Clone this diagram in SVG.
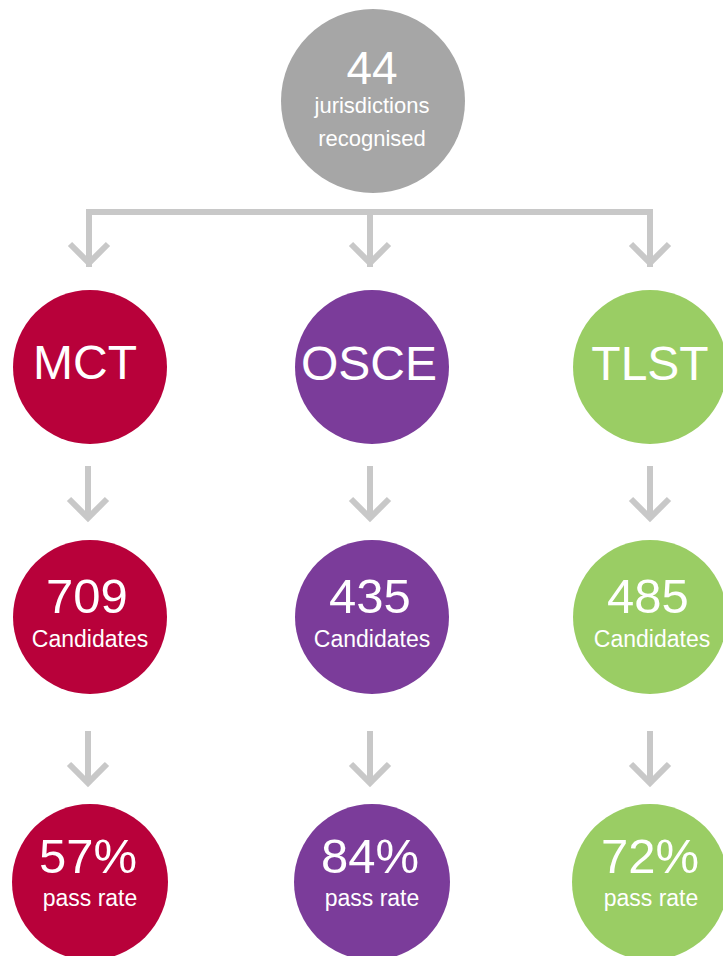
<svg xmlns="http://www.w3.org/2000/svg" xmlns:xlink="http://www.w3.org/1999/xlink" width="723" height="956" viewBox="0 0 723 956">
<style>
.conn{fill:none;stroke:#c8c8c8;stroke-width:6;stroke-linejoin:miter;stroke-linecap:butt}
text{font-family:"Liberation Sans",Arial,sans-serif;fill:#ffffff;text-anchor:middle}
.big{font-size:46px}
.num{font-size:49px}
.mid{font-size:48px}
.lab{font-size:22px}
.lab2{font-size:23px}
.gray{fill:#a6a6a6}
.red{fill:#b8013a}
.pur{fill:#7b3c9a}
.grn{fill:#9acd64}
</style>
<defs>
<path id="arr" d="M0,0 V52 M-19,33 L0,52 L19,33" class="conn"/>
</defs>
<rect width="723" height="956" fill="#ffffff"/>
<g id="connectors">
<path class="conn" d="M89,267 V212 H650 V267 M370,212 V267"/>
<path class="conn" d="M70,244 L89,263 L108,244 M351,244 L370,263 L389,244 M631,244 L650,263 L669,244"/>
<use xlink:href="#arr" x="88" y="466"/>
<use xlink:href="#arr" x="370" y="466"/>
<use xlink:href="#arr" x="650" y="466"/>
<use xlink:href="#arr" x="88" y="731"/>
<use xlink:href="#arr" x="370" y="731"/>
<use xlink:href="#arr" x="650" y="731"/>
</g>
<g id="top">
<circle class="gray" cx="373" cy="101" r="92"/>
<text class="big" x="372" y="84">44</text>
<text class="lab" x="372" y="113">jurisdictions</text>
<text class="lab" x="372" y="146">recognised</text>
</g>
<g id="mct">
<circle class="red" cx="90" cy="367" r="77"/>
<text class="mid" x="85" y="379">MCT</text>
</g>
<g id="osce">
<circle class="pur" cx="372" cy="367" r="77"/>
<text class="mid" x="369" y="380">OSCE</text>
</g>
<g id="tlst">
<circle class="grn" cx="650" cy="367" r="77"/>
<text class="mid" x="650" y="380">TLST</text>
</g>
<g id="mct-cand">
<circle class="red" cx="90" cy="617" r="77"/>
<text class="num" x="87" y="613">709</text>
<text class="lab2" x="90" y="647">Candidates</text>
</g>
<g id="osce-cand">
<circle class="pur" cx="372" cy="617" r="77"/>
<text class="num" x="370" y="613">435</text>
<text class="lab2" x="372" y="647">Candidates</text>
</g>
<g id="tlst-cand">
<circle class="grn" cx="650" cy="617" r="77"/>
<text class="num" x="648" y="613">485</text>
<text class="lab2" x="652" y="647">Candidates</text>
</g>
<g id="mct-pass">
<circle class="red" cx="90" cy="882" r="78"/>
<text class="num" x="88" y="873">57%</text>
<text class="lab2" x="90" y="906">pass rate</text>
</g>
<g id="osce-pass">
<circle class="pur" cx="372" cy="882" r="78"/>
<text class="num" x="370" y="873">84%</text>
<text class="lab2" x="372" y="906">pass rate</text>
</g>
<g id="tlst-pass">
<circle class="grn" cx="650" cy="882" r="78"/>
<text class="num" x="650" y="873">72%</text>
<text class="lab2" x="651" y="906">pass rate</text>
</g>
</svg>
